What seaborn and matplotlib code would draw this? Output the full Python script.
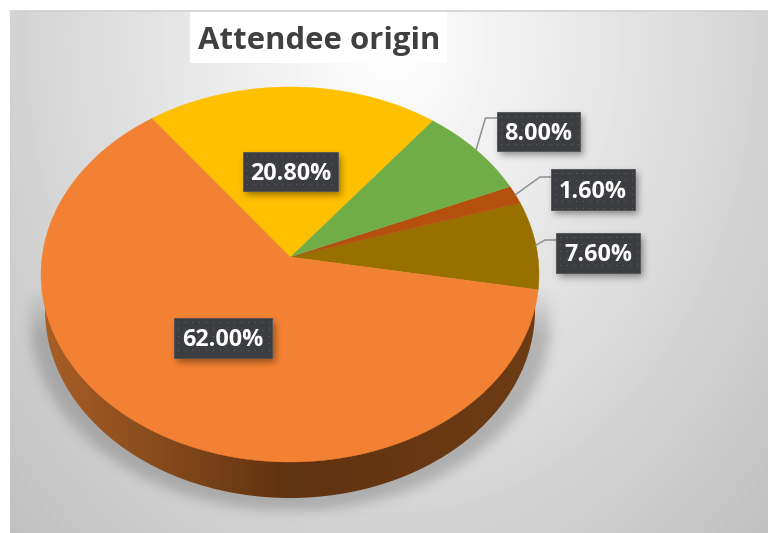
import numpy as np
import seaborn as sns
import matplotlib
matplotlib.use("Agg")
import matplotlib.pyplot as plt
from matplotlib.colors import LinearSegmentedColormap
from matplotlib.patches import Ellipse, Rectangle

# values in counterclockwise order starting at the right hand side
values = [7.6, 1.6, 8.0, 20.8, 62.0]
slice_colors = ["#977000", "#B5500F", "#70AD47", "#FFC000", "#F38133"]
title = "Attendee origin"

W, H = 768, 533
sns.set_style("white")
plt.rcParams["font.family"] = ["Open Sans", "DejaVu Sans"]


def blur(mask, sigma):
    r = int(sigma * 3)
    k = np.exp(-0.5 * (np.arange(-r, r + 1) / sigma) ** 2)
    k /= k.sum()
    mask = np.apply_along_axis(lambda m: np.convolve(m, k, mode="same"), 0, mask)
    return np.apply_along_axis(lambda m: np.convolve(m, k, mode="same"), 1, mask)


# the tilted disc: unit circle seen in perspective, apex is above the ellipse centre
APEX_X, APEX_Y = 290, 257
P, A, B = 0.0933, 247.9, 185.9


def project(theta):
    t = np.radians(theta)
    x, y = np.cos(t), np.sin(t)
    return APEX_X + A * x / (1 + P * y), APEX_Y - B * y / (1 + P * y)


fig = plt.figure(figsize=(W / 100, H / 100), dpi=100)
ax = fig.add_axes([0, 0, 1, 1])
wedges, _ = ax.pie(values, startangle=-10, colors=sns.color_palette(slice_colors))
angles = [(w.theta1, w.theta2) for w in wedges]
for w in wedges:
    w.remove()
ax.set_aspect("auto")

yy, xx = np.mgrid[0:H, 0:W]

# background panel
d = np.hypot(xx - 390, (yy - 40) / 1.3) / 509
bg = 255 - 60 * d
ax.imshow(bg, cmap="gray", vmin=0, vmax=255, extent=(0, W, H, 0), aspect="auto", zorder=0)
ax.add_patch(Rectangle((0, 0), 9.5, H, color="white", zorder=1, lw=0))
ax.add_patch(Rectangle((0, 0), W, 11, color="white", zorder=1, lw=0))
ax.plot([9.5, W], [11, 11], color="#cfcfcf", lw=1.2, zorder=1)

# soft shadow below the pie
shadow = (((xx - 290) / 260) ** 2 + ((yy - 320) / 190) ** 2 < 1).astype(float)
shadow = blur(shadow, 6) * np.clip((yy - 285) / 50, 0, 1)
rgba = np.zeros((H, W, 4))
rgba[..., :3] = 0.35
rgba[..., 3] = shadow * 0.33
ax.imshow(rgba, extent=(0, W, H, 0), aspect="auto", zorder=2)

# pie wall, a second ellipse with a horizontal gradient
wall_cmap = LinearSegmentedColormap.from_list(
    "wall", [(0, "#A95E26"), (0.2, "#8C4E1E"), (0.5, "#5F3210"), (0.75, "#673813"), (1, "#6D3C15")]
)
wall = ax.imshow(np.linspace(0, 1, 300)[None, :], cmap=wall_cmap, extent=(41, 539, 510, 290),
                 aspect="auto", zorder=3)
wall.set_clip_path(Ellipse((290, 310), 490, 376, transform=ax.transData))

# pie top
for (t1, t2), c in zip(angles, slice_colors):
    th = np.linspace(t1, t2, 200)
    px, py = project(th)
    ax.fill(np.r_[APEX_X, px], np.r_[APEX_Y, py], color=c, lw=0.3, zorder=4)

# leader lines start at the middle of their slice
elbows = {0: [(545, 240), (556, 240)], 1: [(540, 177), (551, 177)], 2: [(485.5, 118), (497, 118)]}
for i, pts in elbows.items():
    sx, sy = project(sum(angles[i]) / 2)
    ax.plot([sx] + [p[0] for p in pts], [sy] + [p[1] for p in pts], color="#8f9091", lw=1.1, zorder=5)

# data labels: x0, x1, y0, y1 of each box
boxes = {0: (556, 640, 233, 273), 1: (551, 635, 169, 210), 2: (497, 580, 112, 151),
         3: (243, 338, 152, 191), 4: (174, 272, 318, 358)}

box_shadow = np.zeros((H, W))
for x0, x1, y0, y1 in boxes.values():
    box_shadow[y0 + 4:y1 + 4, x0 + 3:x1 + 3] = 1
rgba = np.zeros((H, W, 4))
rgba[..., 3] = blur(box_shadow, 3.5) * 0.4
ax.imshow(rgba, extent=(0, W, H, 0), aspect="auto", zorder=6)

for i, (x0, x1, y0, y1) in boxes.items():
    ax.add_patch(Rectangle((x0, y0), x1 - x0, y1 - y0, facecolor="#3B3D40", edgecolor="#505255",
                           lw=0.6, zorder=7))
    # faint dot texture of the label fill
    gx, gy = np.meshgrid(np.arange(x0 + 4, x1 - 1, 7), np.arange(y0 + 4, y1 - 1, 7))
    ax.plot(gx.ravel(), gy.ravel(), ls="", marker="o", ms=1, mew=0, color="#5A5C60", zorder=7)
    ax.text((x0 + x1) / 2, (y0 + y1) / 2 + 2, f"{values[i]:.2f}%", color="white", fontsize=16.8,
            fontweight="bold", ha="center", va="center", zorder=8)

# title on its white box
ax.add_patch(Rectangle((190, 12), 257, 51, color="white", lw=0, zorder=7))
ax.text(198, 41, title, color="#404040", fontsize=22.4, fontweight="bold", ha="left", va="center", zorder=8)

ax.set_xlim(0, W)
ax.set_ylim(H, 0)
ax.axis("off")
fig.savefig("out.png", dpi=100)
